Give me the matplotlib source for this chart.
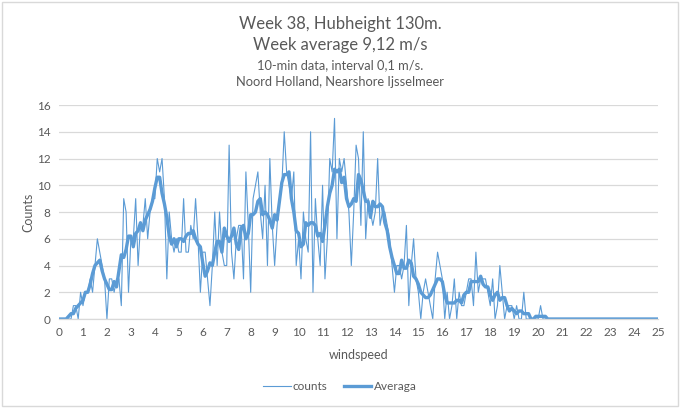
import numpy as np
import pandas as pd
import matplotlib
matplotlib.use('Agg')
import matplotlib.pyplot as plt
from matplotlib.patches import Rectangle

# windspeed bins 0..25 m/s, step 0.1
windspeed = np.round(np.arange(0, 251) * 0.1, 1)

counts = [
    0, 0, 0, 0, 0, 0, 1, 1, 0, 2,
    1, 2, 2, 3, 2, 4, 6, 5, 4, 3,
    0, 3, 3, 2, 3, 3, 1, 9, 8, 2,
    6, 6, 9, 4, 7, 7, 9, 6, 8, 9,
    9, 12, 11, 12, 9, 3, 8, 6, 5, 6,
    5, 5, 9, 5, 5, 7, 6, 9, 6, 2,
    5, 5, 3, 1, 4, 8, 4, 8, 5, 4,
    4, 13, 5, 3, 6, 7, 7, 3, 11, 7,
    2, 9, 10, 11, 8, 6, 10, 4, 12, 7,
    4, 7, 9, 10, 14, 11, 10, 9, 11, 4,
    6, 3, 8, 6, 5, 14, 2, 9, 6, 4,
    10, 3, 6, 12, 11, 15, 6, 12, 11, 12,
    10, 8, 4, 8, 13, 12, 7, 14, 6, 9,
    8, 7, 8, 12, 7, 8, 8, 7, 6, 4,
    2, 4, 4, 3, 4, 7, 1, 4, 6, 3,
    2, 0, 2, 3, 2, 1, 0, 3, 5, 4,
    3, 0, 2, 0, 1, 3, 0, 2, 1, 1,
    2, 3, 3, 1, 5, 2, 3, 3, 3, 2,
    1, 3, 0, 1, 4, 2, 0, 1, 1, 1,
    0, 1, 0, 0, 2, 0, 0, 0, 0, 0,
    0, 1, 0, 0, 0, 0, 0, 0, 0, 0,
] + [0] * 41

# moving average of the counts (as in the sheet)
averaga = pd.Series(counts).rolling(5, center=True, min_periods=1).mean()

title_lines = ['Week 38, Hubheight 130m.', 'Week average 9,12 m/s']
sub_lines = ['10-min data, interval 0,1 m/s.', 'Noord Holland, Nearshore Ijsselmeer']
xticks = list(range(0, 26))
yticks = list(range(0, 17, 2))

blue = '#5b9bd5'
grey_txt = '#595959'
grid_c = '#d9d9d9'

plt.rcParams['font.family'] = ['Lato', 'DejaVu Sans']

fig = plt.figure(figsize=(6.8, 4.08), dpi=100)
ax = fig.add_axes([0.0868, 0.2181, 0.9676 - 0.0868, 0.7426 - 0.2181])

ax.plot(windspeed, counts, color=blue, lw=0.8, label='counts')
ax.plot(windspeed, averaga, color=blue, lw=2.4, label='Averaga')

ax.set_xlim(0, 25)
ax.set_ylim(0, 16)
ax.set_xticks(xticks)
ax.set_yticks(yticks)
ax.tick_params(length=0, labelsize=8.5, colors=grey_txt, pad=6)
ax.grid(axis='y', color=grid_c, lw=0.9)
ax.set_axisbelow(True)
for s in ['top', 'right', 'left']:
    ax.spines[s].set_visible(False)
ax.spines['bottom'].set_color(grid_c)
ax.spines['bottom'].set_linewidth(0.9)

ax.set_xlabel('windspeed', fontsize=9, color=grey_txt, labelpad=8)
ax.set_ylabel('Counts', fontsize=9, color=grey_txt, labelpad=2)

fig.text(0.5, 1 - 24 / 408, title_lines[0], ha='center', va='center', fontsize=12, color=grey_txt)
fig.text(0.5, 1 - 45 / 408, title_lines[1], ha='center', va='center', fontsize=12, color=grey_txt)
fig.text(0.5, 1 - 65 / 408, sub_lines[0], ha='center', va='center', fontsize=9.3, color=grey_txt)
fig.text(0.5, 1 - 82 / 408, sub_lines[1], ha='center', va='center', fontsize=9.3, color=grey_txt)

leg = fig.legend(loc='center', bbox_to_anchor=(0.5, 1 - 387 / 408), ncol=2, frameon=False,
                 fontsize=8.5, handlelength=2.3, handletextpad=0.2, columnspacing=1.4)
for t in leg.get_texts():
    t.set_color(grey_txt)

fig.patches.append(Rectangle((0.003, 0.005), 0.994, 0.99, transform=fig.transFigure,
                             fill=False, edgecolor=grid_c, lw=1))

fig.savefig('out.png', dpi=100, facecolor='white')
